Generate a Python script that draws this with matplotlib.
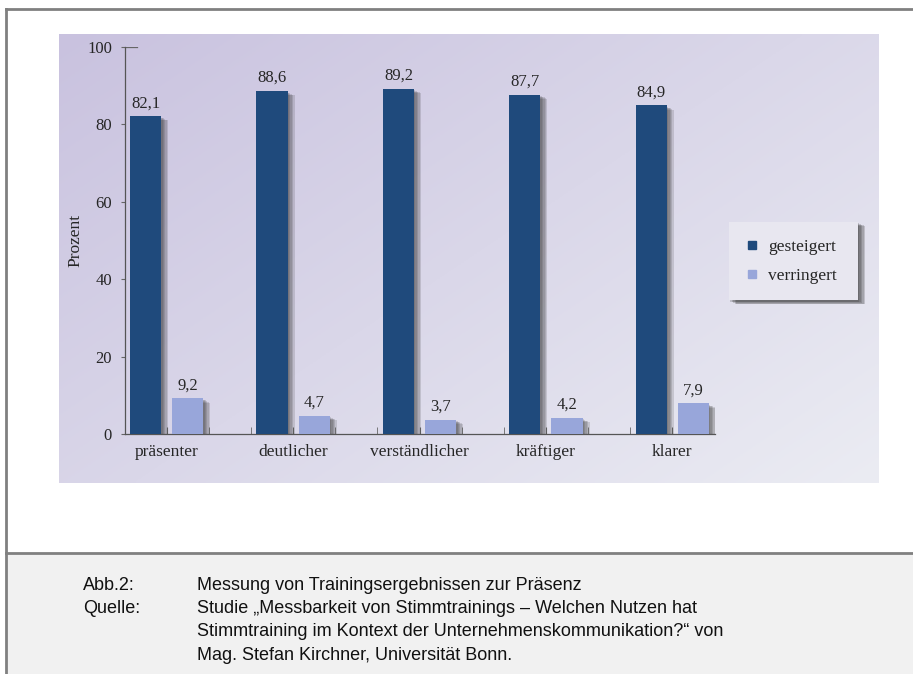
import numpy as np
import matplotlib
matplotlib.use('Agg')
import matplotlib.pyplot as plt
import matplotlib.patheffects as pe
from matplotlib.patches import Rectangle
from matplotlib.lines import Line2D

# Daten
kategorien = ['präsenter', 'deutlicher', 'verständlicher', 'kräftiger', 'klarer']
gesteigert = [82.1, 88.6, 89.2, 87.7, 84.9]
verringert = [9.2, 4.7, 3.7, 4.2, 7.9]
serien = ['gesteigert', 'verringert']
caption_rows = [
    ('Abb.2:', 'Messung von Trainingsergebnissen zur Präsenz'),
    ('Quelle:', 'Studie „Messbarkeit von Stimmtrainings – Welchen Nutzen hat'),
    ('', 'Stimmtraining im Kontext der Unternehmenskommunikation?“ von'),
    ('', 'Mag. Stefan Kirchner, Universität Bonn.'),
]

W, H = 913, 674
dunkel = '#1f4a7c'
hell = '#98a6da'
serif = 'Liberation Serif'
txtcol = '#262626'


def fx(px):
    return px / W


def fy(py):
    return 1 - py / H


def soft_shadow(strength=0.16):
    # mehrere versetzte Schatten -> weicher Rand
    fx_list = []
    for dx, dy in [(1, -1), (2, -1.5), (3, -2), (4, -2.5), (5, -3)]:
        fx_list.append(pe.SimplePatchShadow(offset=(dx, dy), shadow_rgbFace='#333333', alpha=strength))
    return fx_list + [pe.Normal()]


fig = plt.figure(figsize=(W / 100, H / 100), dpi=100)
fig.patch.set_facecolor('white')

# Rahmen und Bildunterschrift-Bereich
fig.add_artist(Rectangle((fx(6), 0), 1 - fx(6), fy(553), transform=fig.transFigure,
                         facecolor='#f1f1f1', edgecolor='none', zorder=0))
for xs, ys in [([6, 913], [9, 9]), ([6, 6], [9, 674]), ([6, 913], [553, 553])]:
    fig.add_artist(Line2D([fx(x) for x in xs], [fy(y) for y in ys], transform=fig.transFigure,
                          color='#808080', linewidth=2))

# Hintergrund mit Verlauf
bg = fig.add_axes([fx(59), fy(483), fx(878 - 59), (483 - 34) / H])
bg.axis('off')
c1 = np.array([0xc9, 0xc2, 0xdf]) / 255
c2 = np.array([0xeb, 0xec, 0xf3]) / 255
gx, gy = np.meshgrid(np.linspace(0, 1, 200), np.linspace(0, 1, 200))
t = np.clip(0.55 * gx + 0.45 * gy, 0, 1)[..., None]
bg.imshow(c1 * (1 - t) + c2 * t, extent=[0, 1, 0, 1], aspect='auto', origin='upper')

# Diagramm
ax = fig.add_axes([fx(124.5), fy(434), fx(590), (434 - 47) / H])
ax.patch.set_alpha(0)
x = np.arange(len(kategorien)) * 3
b1 = ax.bar(x + 0.5, gesteigert, width=0.74, color=dunkel, zorder=3)
b2 = ax.bar(x + 1.5, verringert, width=0.74, color=hell, zorder=3)
for b in list(b1) + list(b2):
    b.set_path_effects(soft_shadow())

for xi, v in zip(x + 0.5, gesteigert):
    ax.text(xi, v + 1.3, f'{v:.1f}'.replace('.', ','), ha='center', va='bottom',
            fontsize=12, family=serif, color=txtcol)
for xi, v in zip(x + 1.5, verringert):
    ax.text(xi, v + 1.3, f'{v:.1f}'.replace('.', ','), ha='center', va='bottom',
            fontsize=12, family=serif, color=txtcol)

ax.set_xlim(0, 14)
ax.set_ylim(0, 100)
ax.set_yticks([0, 20, 40, 60, 80, 100])
ax.set_yticklabels(['0', '20', '40', '60', '80', '100'], family=serif, fontsize=12, color=txtcol)
ax.set_xticks(x + 1)
ax.set_xticklabels(kategorien, family=serif, fontsize=12.5, color=txtcol)
ax.set_xticks([v for v in range(1, 14) if v % 3 != 1], minor=True)
ax.tick_params(axis='x', which='both', direction='in', length=5, color='#666666')
ax.tick_params(axis='x', which='major', pad=7)
ax.tick_params(axis='y', direction='out', length=3, color='#666666', pad=6)
ax.axhline(100, xmin=0, xmax=12 / 590, color='#666666', linewidth=0.9)
for s in ['top', 'right']:
    ax.spines[s].set_visible(False)
for s in ['left', 'bottom']:
    ax.spines[s].set_color('#555555')
    ax.spines[s].set_linewidth(0.9)
ax.set_ylabel('Prozent', family=serif, fontsize=12.5, color=txtcol, labelpad=3)

# Legende
handles = [Line2D([], [], marker='s', linestyle='none', markersize=6, color=c) for c in [dunkel, hell]]
leg = fig.legend(handles, serien, loc='upper left',
                 bbox_to_anchor=(fx(729), fy(222), fx(129), 0.0), mode='expand',
                 prop={'family': serif, 'size': 12.5}, handlelength=0.8, handletextpad=0.5,
                 labelspacing=0.75, borderpad=0.95, borderaxespad=0, fancybox=False, framealpha=1)
leg.get_frame().set_facecolor('#e8e7f0')
leg.get_frame().set_edgecolor('none')
leg.get_frame().set_path_effects(soft_shadow(0.2))
for txt in leg.get_texts():
    txt.set_color(txtcol)

# Bildunterschrift
for i, (a, b) in enumerate(caption_rows):
    yy = fy(585 + i * 23.5)
    fig.text(fx(83), yy, a, family='Liberation Sans', fontsize=13, va='center', color='#111111')
    fig.text(fx(197), yy, b, family='Liberation Sans', fontsize=13, va='center', color='#111111')

fig.savefig('out.png', dpi=100)
